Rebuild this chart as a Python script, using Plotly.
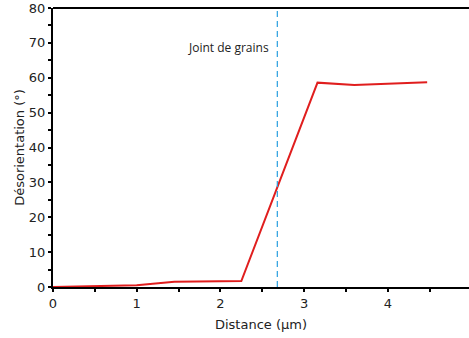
import plotly.graph_objects as go

distance = [0.0, 0.5, 1.0, 1.45, 2.25, 3.16, 3.6, 4.47]
desorientation = [0.0, 0.2, 0.5, 1.5, 1.7, 58.6, 57.9, 58.7]
boundary_x = 2.68
boundary_label = "Joint de grains"
x_tickvals = [0, 0.5, 1, 1.5, 2, 2.5, 3, 3.5, 4, 4.5, 5]
x_ticktext = ["0", "", "1", "", "2", "", "3", "", "4", "", "5"]
y_tickvals = [0, 5, 10, 15, 20, 25, 30, 35, 40, 45, 50, 55, 60, 65, 70, 75, 80]
y_ticktext = ["0", "", "10", "", "20", "", "30", "", "40", "", "50", "", "60", "", "70", "", "80"]

fig = go.Figure()
fig.add_trace(go.Scatter(x=distance, y=desorientation, mode="lines",
                         line=dict(color="#e01e1e", width=2), showlegend=False,
                         cliponaxis=False))
fig.add_shape(type="line", x0=boundary_x, x1=boundary_x, y0=0, y1=80,
              xref="x", yref="y", line=dict(color="#2a9fe0", width=1.2, dash="6px,4px"))
fig.add_annotation(x=boundary_x, y=68.8, text=boundary_label, showarrow=False,
                   xanchor="right", xshift=-6, font=dict(family="Open Sans", size=12, color="#222"))

tickfont = dict(family="DejaVu Sans", size=13, color="#222")
fig.update_layout(
    width=469, height=338,
    margin=dict(l=53, r=0, t=8, b=51),
    plot_bgcolor="white", paper_bgcolor="white",
    xaxis=dict(range=[0, 4.97], tickvals=x_tickvals, ticktext=x_ticktext,
               ticks="outside", ticklen=3, tickwidth=2, tickcolor="black",
               showline=True, linecolor="black", linewidth=2, mirror=False,
               showgrid=False, zeroline=False, tickfont=tickfont,
               title=dict(text="Distance (µm)", font=dict(family="DejaVu Sans", size=13, color="#222"), standoff=10)),
    yaxis=dict(range=[0, 80], tickvals=y_tickvals, ticktext=y_ticktext,
               ticks="outside", ticklen=3, tickwidth=2, tickcolor="black",
               showline=True, linecolor="black", linewidth=2,
               showgrid=False, zeroline=False, tickfont=tickfont,
               title=dict(text="Désorientation (°)", font=dict(family="DejaVu Sans", size=13, color="#222"), standoff=1)),
)
fig.add_shape(type="line", x0=0, x1=1, y0=1, y1=1, xref="paper", yref="paper",
              line=dict(color="black", width=2))
fig.write_html("out.html", config={"displayModeBar": False},
               post_script="document.body.style.margin='0';document.body.style.overflow='hidden';")
